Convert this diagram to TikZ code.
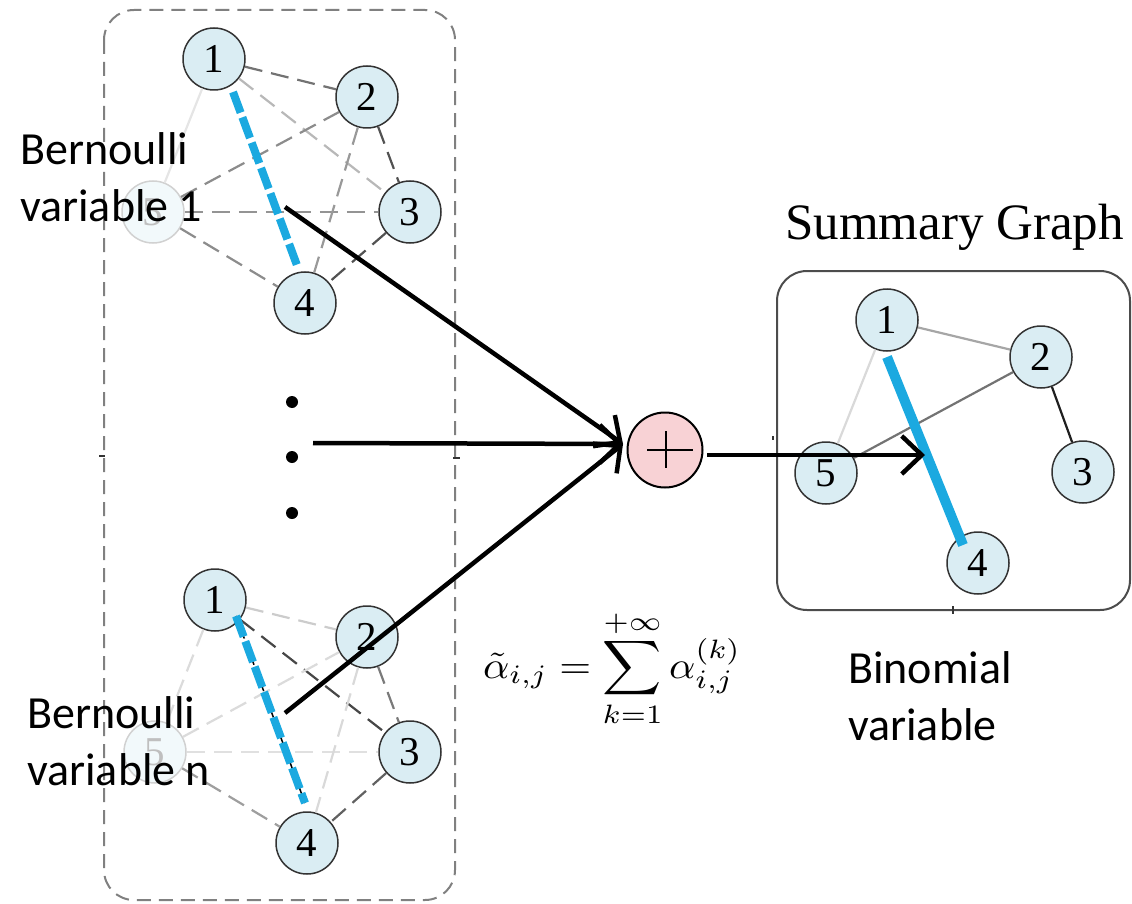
\documentclass[tikz,border=0pt]{standalone}
\usepackage{graphicx}
\usepackage{fontspec}
\newfontfamily\calib{Carlito}
\newfontfamily\tms{Liberation Serif}
\usetikzlibrary{arrows.meta,calc}
\definecolor{nodeblue}{HTML}{DAEDF3}
\definecolor{hiblue}{HTML}{1BA9E0}
\definecolor{pinkfill}{HTML}{F8D2D5}
\begin{document}
\begin{tikzpicture}[x=1pt,y=-1pt,
  gn/.style={circle,draw=black!80,fill=nodeblue,line width=1.5pt,minimum size=62pt,inner sep=0pt,font=\tms\fontsize{41}{41}\selectfont},
  fn/.style={gn,draw=black!18,fill=nodeblue!35,text=black!25},
  de/.style={line width=2.2pt,dash pattern=on 18pt off 9pt},
  se/.style={line width=2.2pt},
  arr/.style={line width=4.5pt,-{Straight Barb[length=20pt,width=38pt]}},
  lbl/.style={font=\calib\fontsize{46}{46}\selectfont,anchor=base west,inner sep=0pt},
  hidash/.style={hiblue,line width=8pt,dash pattern=on 22pt off 5pt},
  tick/.style={black!80,line width=2pt}
]
\useasboundingbox (0,0) rectangle (1132,904);

% outer dashed box
\draw[black!50,line width=2pt,dash pattern=on 14pt off 8pt,rounded corners=30pt] (104,10) rectangle (455,900);
\draw[tick] (99,456) -- (105,456);
\draw[tick] (453,458) -- (460,458);

% ---- top Bernoulli graph
\node[gn] (t1) at (214,59) {1};
\node[gn] (t2) at (367,97) {2};
\node[gn] (t3) at (410,212) {3};
\node[gn] (t4) at (305,303) {4};
\node[fn] (t5) at (153,212) {5};
\draw[de,black!55] (t1) -- (t2);
\draw[de,black!28] (t1) -- (t3);
\draw[se,black!10] (t1) -- (t5);
\draw[de,black!45] (t5) -- (t2);
\draw[de,black!42] (t5) -- (t3);
\draw[de,black!45] (t5) -- (t4);
\draw[de,black!68] (t2) -- (t3);
\draw[de,black!40] (t2) -- (t4);
\draw[de,black!68] (t3) -- (t4);
\coordinate (tb1) at (233,92);
\coordinate (tb4) at (298,268);
\draw[hidash] (tb1) -- (tb4);

% dots
\fill (292,402) circle (6);
\fill (292,457) circle (6);
\fill (292,513) circle (6);

% ---- bottom Bernoulli graph
\node[gn] (b1) at (215,600) {1};
\node[gn] (b2) at (367,637) {2};
\node[gn] (b3) at (410,752) {3};
\node[gn] (b4) at (307,843) {4};
\node[fn] (b5) at (155,752) {5};
\draw[de,black!20] (b1) -- (b2);
\draw[de,black!72] (b1) -- (b3);
\draw[de,black!14] (b1) -- (b5);
\draw[de,black!14] (b5) -- (b2);
\draw[de,black!12] (b5) -- (b3);
\draw[de,black!38] (b5) -- (b4);
\draw[de,black!52] (b2) -- (b3);
\draw[de,black!15] (b2) -- (b4);
\draw[de,black!62] (b3) -- (b4);
\coordinate (bb1) at (236,616);
\coordinate (bb4) at (305,803);
\draw[black,line width=1.5pt,dash pattern=on 10pt off 4pt] (bb1) -- (bb4);
\draw[hidash] (bb1) -- (bb4);

% ---- sum node
\node[circle,draw=black,line width=2pt,fill=pinkfill,minimum size=75pt,inner sep=0pt,
  path picture={
    \draw[line width=1.8pt] ([xshift=-18pt]path picture bounding box.center) -- ([xshift=28pt]path picture bounding box.center);
    \draw[line width=1.8pt] ([xshift=1pt,yshift=19pt]path picture bounding box.center) -- ([xshift=1pt,yshift=-18pt]path picture bounding box.center);
  }] (plus) at (665,450) {};

% ---- summary graph
\draw[black!70,line width=2pt,rounded corners=30pt] (777,271) rectangle (1130,610);
\draw[tick] (773,436) -- (773,440);
\draw[tick] (953,606) -- (953,614);
\node[gn] (s1) at (887,320) {1};
\node[gn] (s2) at (1041,357) {2};
\node[gn] (s3) at (1083,472) {3};
\node[gn] (s4) at (978,563) {4};
\node[gn] (s5) at (826,473) {5};
\draw[se,black!35] (s1) -- (s2);
\draw[se,black!15] (s1) -- (s5);
\draw[se,black!55] (s5) -- (s2);
\draw[se,black!88] (s2) -- (s3);
\coordinate (sb1) at (887,357);
\coordinate (sb4) at (963,545);
\draw[hiblue,line width=10pt] (sb1) -- (sb4);

% ---- arrows
\coordinate (a1) at (285,207);
\coordinate (a2) at (313,443);
\coordinate (a3) at (285,713);
\coordinate (pin) at (623,444);
\coordinate (pout) at (707,455);
\coordinate (hit) at (925,455);
\draw[arr] (a1) -- (pin);
\draw[arr] (a2) -- (pin);
\draw[arr] (a3) -- (pin);
\draw[arr] (pout) -- (hit);

% ---- texts
\node[anchor=base west,inner sep=0pt,font=\tms\fontsize{51}{51}\selectfont] (title) at (785,240) {Summary Graph};
\node[anchor=base west,inner sep=0pt] (formula) at (483,678)
  {\scalebox{4.1}[3.8]{$\displaystyle \tilde{\alpha}_{i,j} = \sum_{k=1}^{+\infty} \alpha_{i,j}^{(k)}$}};
\node[lbl] (bern1a) at (20,165) {Bernoulli};
\node[lbl] (bern1b) at (20,222) {variable 1};
\node[lbl] (bernna) at (27,728) {Bernoulli};
\node[lbl] (bernnb) at (27,785) {variable n};
\node[lbl] (binoma) at (848,683) {Binomial};
\node[lbl] (binomb) at (848,740) {variable};
\end{tikzpicture}
\end{document}
